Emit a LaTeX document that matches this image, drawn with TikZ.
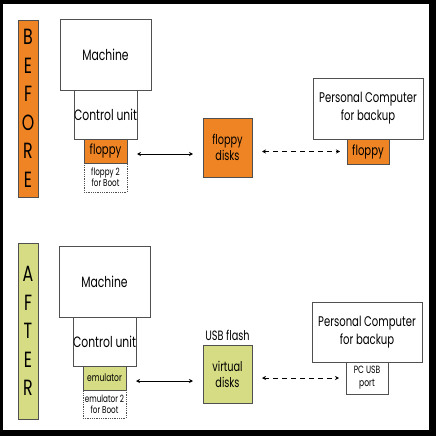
\documentclass[tikz,border=0pt]{standalone}
\usepackage{fontspec}
\setmainfont{Poppins}[FakeStretch=0.72]
\usepackage{tikz}
\usetikzlibrary{arrows.meta, positioning, calc}
\definecolor{oldorange}{HTML}{EE8424}
\definecolor{newgreen}{HTML}{D6DC84}
\definecolor{frame}{HTML}{505050}

\begin{document}
\begin{tikzpicture}[
    x=1pt, y=-1pt,
    node distance=0pt,
    box/.style={draw=frame, line width=0.8pt, inner sep=0, outer sep=0, align=center, font=\fontsize{15}{16}\selectfont},
    part/.style={box, minimum width=43pt, font=\fontsize{14}{15}\selectfont},
    bootbox/.style={box, densely dotted, minimum width=43pt, font=\fontsize{10}{11}\selectfont},
    bar/.style={draw=frame, line width=0.6pt, minimum width=20pt, inner sep=0, align=center, font=\fontsize{22}{28.5}\selectfont},
    link/.style={{Stealth[length=4pt,width=4pt]}-{Stealth[length=4pt,width=4pt]}, line width=0.7pt, black}
]
\fill[black] (0,0) rectangle (436,436);
\fill[white] (3,4) rectangle (429,430);
\useasboundingbox (0,0) rectangle (436,436);

% before
\node[bar, fill=oldorange, minimum height=177pt] (before) at (28,108.5) {B\\E\\F\\O\\R\\E};
\node[box, minimum width=91pt, minimum height=71pt] (mach1) at (105.5,54.5) {Machine};
\node[box, minimum width=62pt, minimum height=49pt, below=of mach1] (ctrl1) {Control unit};
\node[part, fill=oldorange, minimum height=24pt, below=of ctrl1] (floppy1) {floppy};
\node[bootbox, minimum height=29pt, below=of floppy1] (boot1) {floppy 2\\for Boot};
\node[box, fill=oldorange, minimum width=49pt, minimum height=59pt, font=\fontsize{13.5}{16}\selectfont] (disks) at (227.5,147.5) {floppy\\disks};
\node[box, minimum width=110pt, minimum height=61pt, font=\fontsize{14}{18}\selectfont] (pc1) at (368,108.5) {Personal Computer\\for backup};
\node[part, fill=oldorange, minimum width=42pt, minimum height=25pt, below=of pc1] (pcfloppy) {floppy};

\draw[link, shorten <=10pt, shorten >=10pt] ([yshift=-3pt]floppy1.east) -- ([yshift=-3pt]floppy1.east -| disks.west);
\draw[link, dashed, dash pattern=on 5pt off 4pt, shorten <=10pt, shorten >=7pt] (disks.east |- pcfloppy.west) -- (pcfloppy.west);

% after
\node[bar, fill=newgreen, minimum height=176pt] (after) at (28,331) {A\\F\\T\\E\\R};
\node[box, minimum width=91pt, minimum height=71pt] (mach2) at (104.5,281.5) {Machine};
\node[box, minimum width=63pt, minimum height=49pt, below=of mach2] (ctrl2) {Control unit};
\node[part, fill=newgreen, minimum height=24pt, below=of ctrl2, font=\fontsize{10.5}{11}\selectfont] (emul) {emulator};
\node[bootbox, minimum height=28pt, below=of emul] (boot2) {emulator 2\\for Boot};
\node[box, fill=newgreen, minimum width=49pt, minimum height=58pt, font=\fontsize{13.5}{16}\selectfont] (virt) at (227.5,374) {virtual\\disks};
\node[above=1pt of virt, font=\fontsize{13.5}{14}\selectfont] (usb) {USB flash};
\node[box, minimum width=110pt, minimum height=60pt, font=\fontsize{14}{18}\selectfont] (pc2) at (367,332) {Personal Computer\\for backup};
\node[part, fill=white, minimum width=42pt, minimum height=32pt, below=of pc2, font=\fontsize{10.5}{13}\selectfont] (usbport) {PC USB\\port};

\draw[link, shorten <=10pt, shorten >=10pt] ([yshift=-3pt]emul.east) -- ([yshift=-3pt]emul.east -| virt.west);
\draw[link, dashed, dash pattern=on 5pt off 4pt, shorten <=10pt, shorten >=7pt] (virt.east |- usbport.west) -- (usbport.west);
\end{tikzpicture}
\end{document}
